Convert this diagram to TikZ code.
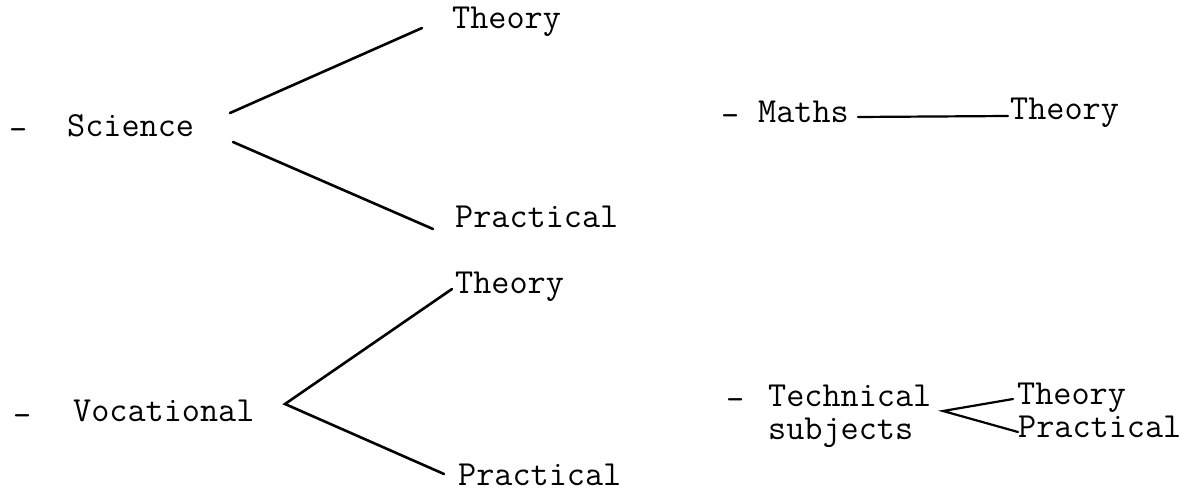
\documentclass[tikz,border=0pt]{standalone}
\usepackage{fontspec}
\begin{document}
\begin{tikzpicture}[x=1pt,y=-1pt,
  lbl/.style={anchor=base west,inner sep=0pt,font=\ttfamily\fontsize{35.2}{38}\selectfont},
  conn/.style={line width=2.6pt,line cap=round},
  connthin/.style={line width=2.2pt,line cap=round}]
\useasboundingbox (0,0) rectangle (1198,492);
% Science group
\node[lbl] (dS) at (9,140) {-};
\node[lbl] (sci) at (67,136) {Science};
\node[lbl] (thS) at (452,29) {Theory};
\node[lbl] (prS) at (455,227) {Practical};
\coordinate (s1) at (230,113);
\coordinate (s2) at (422,28);
\coordinate (s3) at (233,142);
\coordinate (s4) at (433,229);
\draw[conn] (s1) -- (s2);
\draw[conn] (s3) -- (s4);
% Vocational group
\node[lbl] (dV) at (13,426) {-};
\node[lbl] (voc) at (73,421) {Vocational};
\node[lbl] (thV) at (455,293) {Theory};
\node[lbl] (prV) at (458,485) {Practical};
\coordinate (v0) at (285,404);
\coordinate (v1) at (452,289);
\coordinate (v2) at (444,474);
\draw[conn] (v1) -- (v0) -- (v2);
% Maths group
\node[lbl] (dM) at (721,126) {-};
\node[lbl] (mat) at (758,122) {Maths};
\node[lbl] (thM) at (1010,120) {Theory};
\coordinate (m1) at (858,117);
\coordinate (m2) at (1008,116);
\draw[connthin] (m1) -- (m2);
% Technical group
\node[lbl] (dT) at (726,410) {-};
\node[lbl] (tec) at (768,406) {Technical};
\node[lbl] (sub) at (768,439) {subjects};
\node[lbl] (thT) at (1017,404) {Theory};
\node[lbl] (prT) at (1018,437) {Practical};
\coordinate (t0) at (943,411);
\coordinate (t1) at (1013,399);
\coordinate (t2) at (1018,432);
\draw[connthin] (t1) -- (t0) -- (t2);
\end{tikzpicture}
\end{document}
